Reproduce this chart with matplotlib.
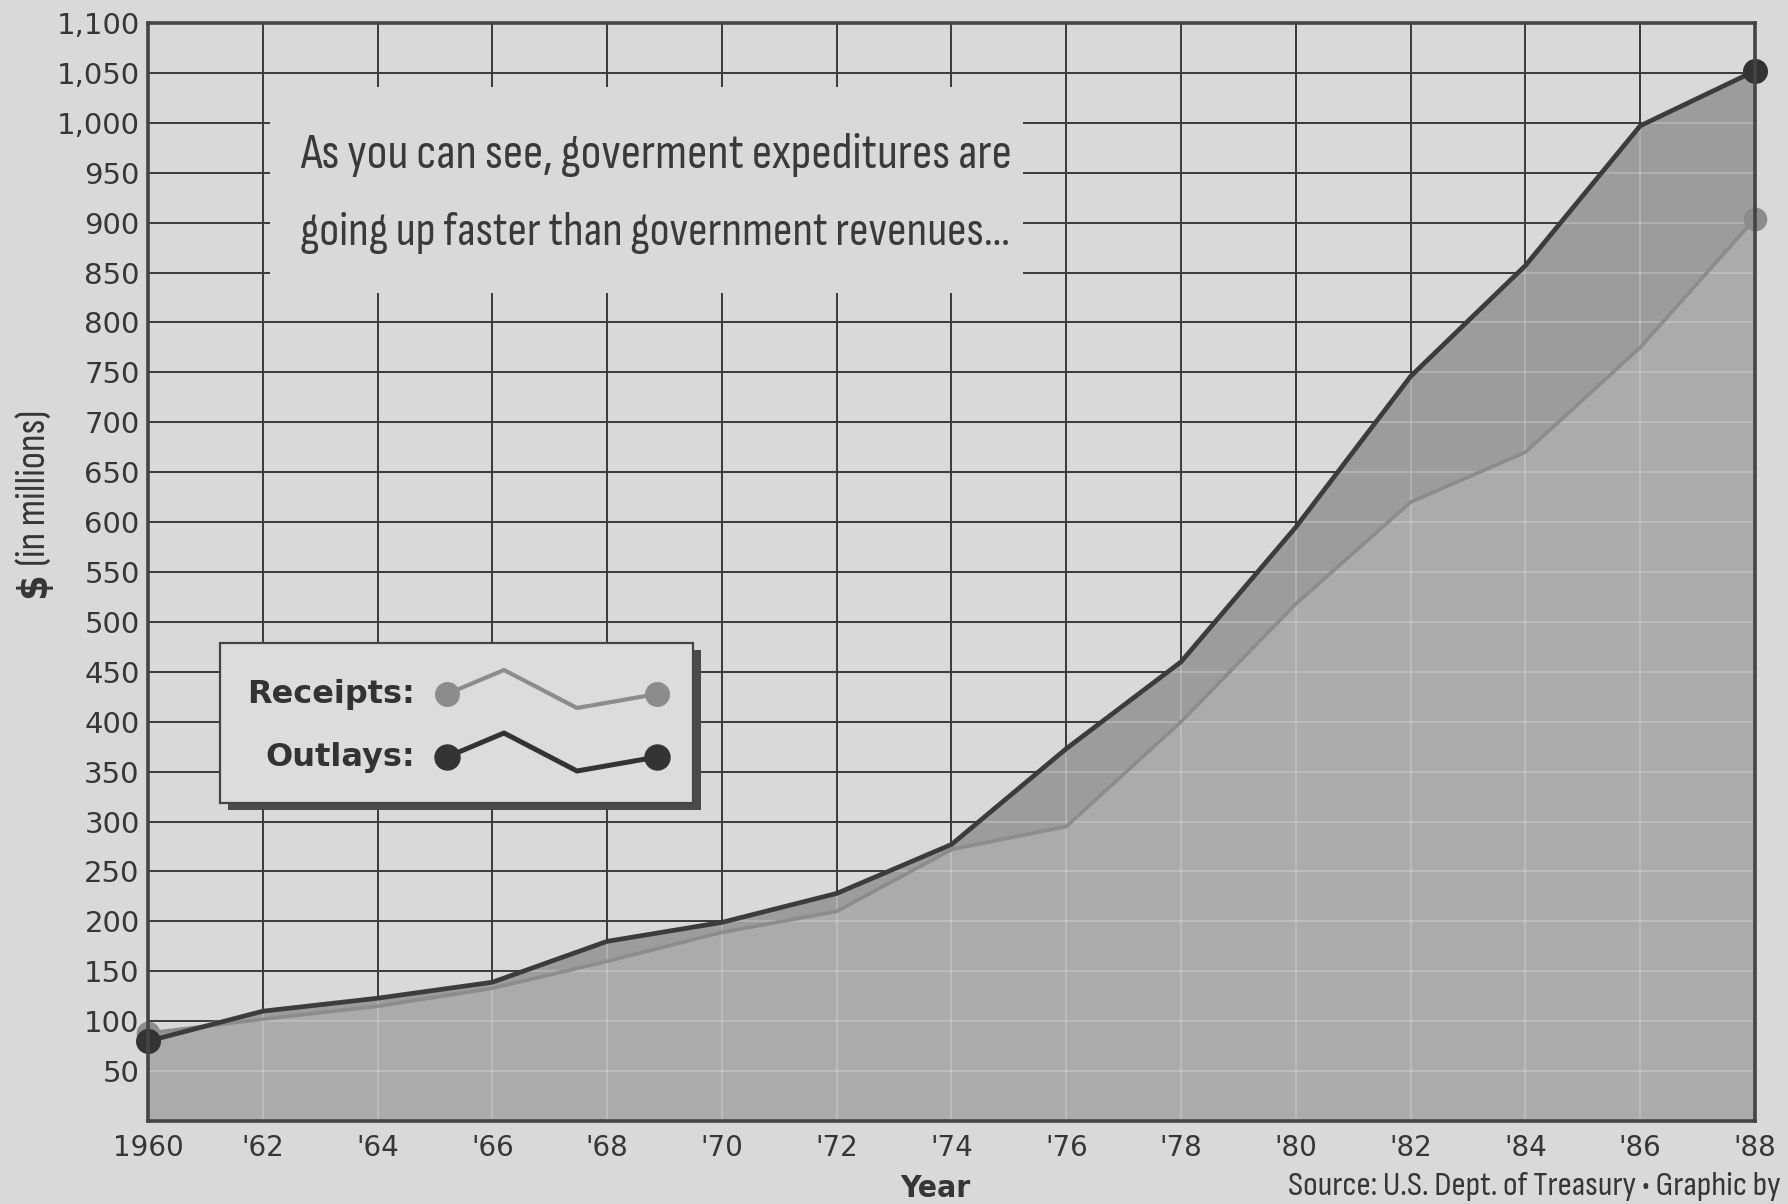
import matplotlib
matplotlib.use("Agg")
import matplotlib.pyplot as plt
from matplotlib import font_manager
from matplotlib.font_manager import FontProperties
from matplotlib.patches import Rectangle
import numpy as np

# ---- data ----
years = [1960, 1962, 1964, 1966, 1968, 1970, 1972, 1974, 1976, 1978, 1980, 1982, 1984, 1986, 1988]
outlays = [80, 110, 123, 139, 180, 199, 228, 277, 373, 460, 595, 746, 857, 997, 1052]
receipts = [88, 102, 115, 133, 160, 189, 210, 272, 295, 400, 518, 620, 670, 775, 904]
x_tick_labels = ["1960", "'62", "'64", "'66", "'68", "'70", "'72", "'74", "'76", "'78",
                 "'80", "'82", "'84", "'86", "'88"]
y_ticks = list(range(0, 1101, 50))
y_tick_labels = [""] + [f"{v:,}" for v in y_ticks[1:]]
note_lines = ["As you can see, goverment expeditures are",
              "going up faster than government revenues\u2026"]
legend_labels = ["Receipts:", "Outlays:"]
source_text = "Source: U.S. Dept. of Treasury \u2022 Graphic by"

BG = "#d9d9d9"
GRID = "#3a3a3a"
DARK = "#3c3c3c"
GRAY = "#8c8c8c"
FILL_LOW = "#ababab"
FILL_MID = "#9c9c9c"
TXT = "#363636"

W, H = 1788, 1204
fig = plt.figure(figsize=(W / 100, H / 100), dpi=100, facecolor=BG)
renderer = fig.canvas.get_renderer()

# ---- choose the narrowest regular condensed face available ----
def wnum(f):
    return f.weight if isinstance(f.weight, int) else (700 if "bold" in str(f.weight) else 400)

reg_cands, bold_cands = [], []
for f in font_manager.fontManager.ttflist:
    nm = f.name.lower()
    if f.style != "normal":
        continue
    narrow = ("narrow" in nm or "condensed" in nm or "condensed" in str(f.stretch))
    if not narrow:
        continue
    w = wnum(f)
    if 350 <= w <= 450:
        reg_cands.append(f)
    elif 600 <= w <= 750:
        bold_cands.append(f)

def measure(txt, fp, rot=0):
    t = fig.text(0, 0, txt, fontproperties=fp, rotation=rot)
    bb = t.get_window_extent(renderer)
    t.remove()
    return bb

best = None
for f in reg_cands:
    bb = measure(note_lines[0], FontProperties(fname=f.fname, size=36))
    size = 36 * 711 / bb.width
    if best is None or abs(size - 36) < abs(best[1] - 36):
        best = (f, size)
if best is not None:
    REG = best[0].fname
    same = [b for b in bold_cands if b.name == best[0].name]
    BOLD = (same or bold_cands or [best[0]])[0].fname
    FP = lambda s: FontProperties(fname=REG, size=s)
    FPB = lambda s: FontProperties(fname=BOLD, size=s)
else:
    FP = lambda s: FontProperties(family="Liberation Sans", size=s)
    FPB = lambda s: FontProperties(family="Liberation Sans", size=s, weight="bold")

def fit(t, target, dim="w"):
    bb = t.get_window_extent(renderer)
    cur = bb.width if dim == "w" else bb.height
    t.set_fontsize(t.get_fontsize() * target / cur)

L, R, T, B = 148, 1755, 23, 1121
ax = fig.add_axes([L / W, 1 - B / H, (R - L) / W, (B - T) / H], facecolor=BG)

def px(xp, yp):
    """full-image pixel -> axes fraction"""
    return (xp - L) / (R - L), (B - yp) / (B - T)

x = np.array(years, dtype=float)
o = np.array(outlays, dtype=float)
r = np.array(receipts, dtype=float)

ax.set_xlim(1960, 1988)
ax.set_ylim(0, 1100)
ax.set_xticks(years)
ax.set_xticklabels(x_tick_labels)
ax.set_yticks(y_ticks)
ax.set_yticklabels(y_tick_labels)
ax.tick_params(length=0, labelsize=20, colors=TXT)
ax.tick_params(axis="y", pad=6, labelsize=21)
ax.tick_params(axis="x", pad=9)
ax.set_axisbelow(True)
ax.grid(True, color=GRID, lw=1.4, zorder=1)
for s in ax.spines.values():
    s.set_color("#444444")
    s.set_linewidth(2.6)
    s.set_zorder(7)

# fills
ax.fill_between(x, 0, r, color=FILL_LOW, lw=0, zorder=2)
ax.fill_between(x, r, o, color=FILL_MID, lw=0, zorder=2)
clip = ax.fill_between(x, 0, np.maximum(o, r), color="none", lw=0, zorder=0)
clip_path = clip.get_paths()[0]

# faint light grid inside the filled area
for yv in y_ticks[1:]:
    ln, = ax.plot([1960, 1988], [yv, yv], color="#e4e4e4", lw=1.2, alpha=0.35, zorder=2.5)
    ln.set_clip_path(clip_path, ax.transData)
for xv in years[1:-1]:
    ln, = ax.plot([xv, xv], [0, 1100], color="#e4e4e4", lw=1.2, alpha=0.35, zorder=2.5)
    ln.set_clip_path(clip_path, ax.transData)

# lines
ax.plot(x, r, color=GRAY, lw=2.6, zorder=4, solid_joinstyle="round")
ax.plot(x, o, color=DARK, lw=3.4, zorder=5, solid_joinstyle="round")
ax.plot(x[[0, -1]], r[[0, -1]], "o", color=GRAY, ms=16, zorder=6, clip_on=False)
ax.plot(x[[0, -1]], o[[0, -1]], "o", color="#333333", ms=17, zorder=6, clip_on=False)

# annotation box covering grid
x0, y1 = px(270, 87)
x1, y0 = px(1023, 293)
ax.add_patch(Rectangle((x0, y0), x1 - x0, y1 - y0, transform=ax.transAxes,
                       facecolor=BG, edgecolor="none", zorder=3))
tx, ty1 = px(300, 168)
_, ty2 = px(300, 245)
t1 = ax.text(tx, ty1, note_lines[0], transform=ax.transAxes, fontproperties=FP(36),
             color="#3a3a3a", va="baseline", ha="left", zorder=8)
t2 = ax.text(tx, ty2, note_lines[1], transform=ax.transAxes, fontproperties=FP(36),
             color="#3a3a3a", va="baseline", ha="left", zorder=8)
fit(t1, 711)
fit(t2, 711)

# legend box with shadow
lx0, ly1 = px(220, 643)
lx1, ly0 = px(693, 803)
sx0, sy1 = px(228, 650)
sx1, sy0 = px(701, 810)
ax.add_patch(Rectangle((sx0, sy0), sx1 - sx0, sy1 - sy0, transform=ax.transAxes,
                       facecolor="#4a4a4a", edgecolor="none", zorder=9))
ax.add_patch(Rectangle((lx0, ly0), lx1 - lx0, ly1 - ly0, transform=ax.transAxes,
                       facecolor="#dcdcdc", edgecolor="#444444", lw=1.6, zorder=10))
for i, (lab, col, lw, ms) in enumerate([(legend_labels[0], GRAY, 3.0, 17),
                                         (legend_labels[1], "#333333", 3.6, 18)]):
    dy = 63 * i
    tx, ty = px(415, 703 + dy)
    ax.text(tx, ty, lab, transform=ax.transAxes, fontsize=23, fontweight="heavy",
            family="DejaVu Sans", color="#333333", ha="right", va="baseline", zorder=11)
    pts = [px(447, 694 + dy), px(504, 670 + dy), px(577, 708 + dy), px(657, 694 + dy)]
    xs = [p[0] for p in pts]
    ys = [p[1] for p in pts]
    ax.plot(xs, ys, color=col, lw=lw, transform=ax.transAxes, zorder=11, clip_on=False)
    ax.plot([xs[0], xs[-1]], [ys[0], ys[-1]], "o", color=col, ms=ms,
            transform=ax.transAxes, zorder=12, clip_on=False)

# axis titles and source
ty_ = fig.text(935 / W, 1 - 1174 / H, "Year", fontproperties=FPB(26),
               color=TXT, ha="center", va="top")
fit(ty_, 70)
tm = fig.text(34 / W, 1 - 566 / H, "(in millions)", fontproperties=FP(26),
              rotation=90, color=TXT, ha="center", va="bottom")
fit(tm, 156, "h")
fig.text(34 / W, 1 - 572 / H, r"\$", fontproperties=FPB(tm.get_fontsize()),
         rotation=90, color=TXT, ha="center", va="top")
ts = fig.text(1288 / W, 3 / H, source_text, fontproperties=FP(22),
              color=TXT, ha="left", va="bottom")
fit(ts, 492)

fig.savefig("out.png", dpi=100, facecolor=BG)
